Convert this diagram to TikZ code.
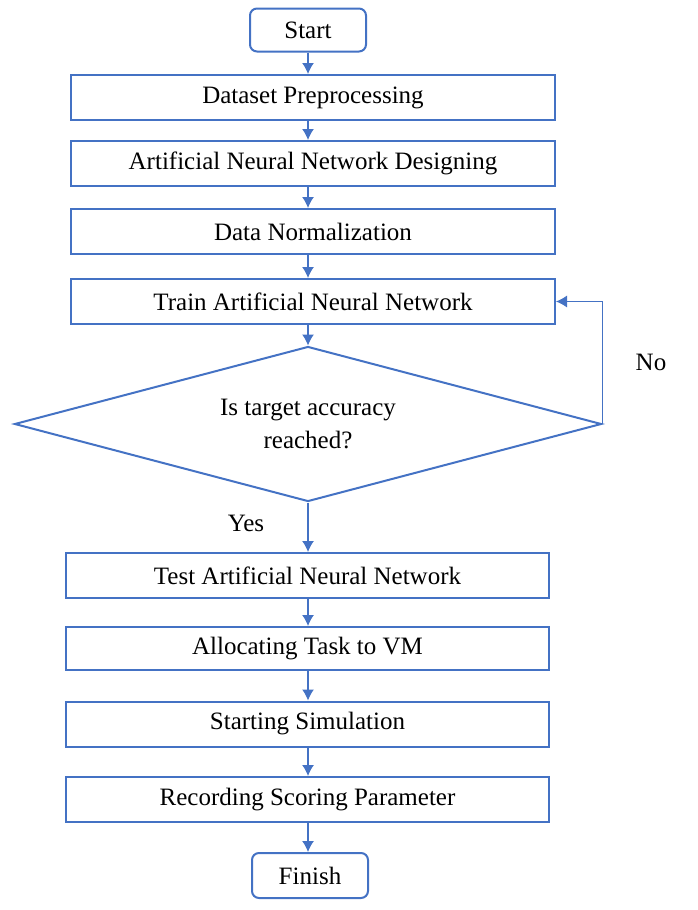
\documentclass[tikz,border=0pt]{standalone}
\usepackage{fontspec}
\setmainfont{Liberation Serif}
\usepackage{tikz}
\usetikzlibrary{arrows.meta}
\usetikzlibrary{shapes.geometric}
\definecolor{oblue}{RGB}{68, 114, 196}

\tikzset{
  stepbox/.style={draw=oblue, line width=2pt, rectangle, minimum width=484pt, minimum height=45pt, inner sep=0pt, font=\fontsize{25}{30}\selectfont},
  termbox/.style={draw=oblue, line width=2pt, rectangle, rounded corners=7pt, minimum width=116pt, minimum height=43pt, inner sep=0pt, font=\fontsize{25}{30}\selectfont},
  flow/.style={-{Latex[length=11pt,width=12pt]}, oblue, line width=1.2pt},
  lbl/.style={font=\fontsize{25}{30}\selectfont}
}

\begin{document}
\begin{tikzpicture}[x=1pt, y=-1pt]
      \useasboundingbox (0, 0) rectangle (697, 910);
      % top half
      \node [termbox] (start) at (308, 30) {Start};
      \node [stepbox] (prep) at (313, 97.5) {Dataset Preprocessing};
      \node [stepbox] (design) at (313, 163.5) {Artificial Neural Network Designing};
      \node [stepbox] (norm) at (313, 231.5) {Data Normalization};
      \node [stepbox] (train) at (313, 301.5) {Train Artificial Neural Network};
      \node [draw=oblue, line width=2pt, diamond, aspect=3.8, minimum width=587pt, minimum height=155pt, inner sep=0pt, align=center, font=\fontsize{25}{33}\selectfont] (check) at (308, 424) {Is target accuracy\\reached?};
      % bottom half
      \node [stepbox, minimum width=483pt] (test) at (307.5, 575.5) {Test Artificial Neural Network};
      \node [stepbox, minimum width=483pt, minimum height=43pt] (alloc) at (307.5, 648.5) {Allocating Task to VM};
      \node [stepbox, minimum width=483pt] (sim) at (307.5, 724) {Starting Simulation};
      \node [stepbox, minimum width=483pt] (record) at (307.5, 799.5) {Recording Scoring Parameter};
      \node [termbox, minimum height=45pt] (finish) at (310, 875.5) {Finish};
      \node [lbl] (no) at (651, 362) {No};
      \node [lbl] (yes) at (246, 523) {Yes};

      \draw [flow] (start.south) -- (start.south |- prep.north);
      \draw [flow] (prep.south -| start.south) -- (start.south |- design.north);
      \draw [flow] (design.south -| start.south) -- (start.south |- norm.north);
      \draw [flow] (norm.south -| start.south) -- (start.south |- train.north);
      \draw [flow] (train.south -| start.south) -- (check.north);
      \draw [flow, line width=0.9pt] (check.east) |- (train.east);
      \draw [flow] (check.south) -- (check.south |- test.north);
      \draw [flow] (test.south -| check.south) -- (check.south |- alloc.north);
      \draw [flow] (alloc.south -| check.south) -- (check.south |- sim.north);
      \draw [flow] (sim.south -| check.south) -- (check.south |- record.north);
      \draw [flow] (record.south -| check.south) -- (check.south |- finish.north);
    \end{tikzpicture}
\end{document}
